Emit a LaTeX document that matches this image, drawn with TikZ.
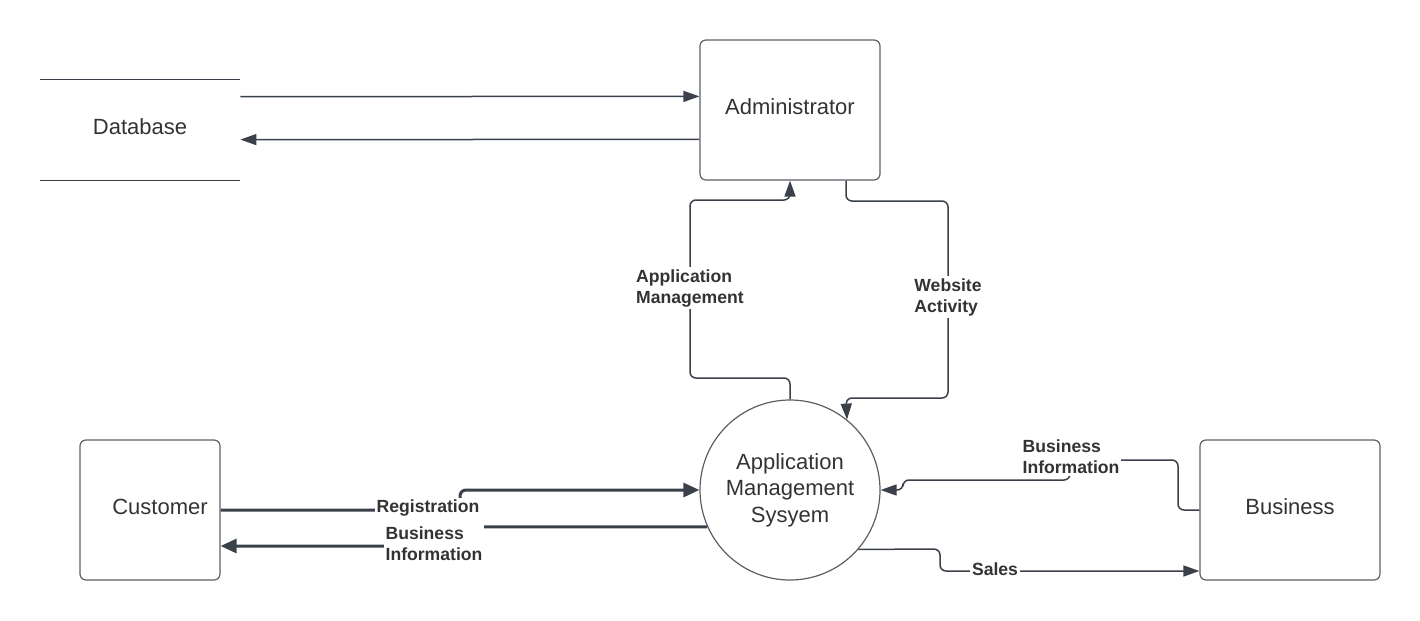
\documentclass[tikz,border=0pt]{standalone}
\usepackage{fontspec}
\setmainfont{Liberation Sans}
\usetikzlibrary{arrows.meta,calc}
\definecolor{ln}{HTML}{3A414A}
\definecolor{bx}{HTML}{5A5F66}
\definecolor{tx}{HTML}{333333}
\begin{document}
\begin{tikzpicture}[x=0.5pt,y=-0.5pt,
  ent/.style={draw=bx, line width=0.6pt, rounded corners=3pt, inner sep=0pt,
    font=\fontsize{11}{13.25}\selectfont, text=tx, text depth=3pt},
  proc/.style={draw=bx, line width=0.6pt, circle, minimum size=90pt, inner sep=0pt,
    font=\fontsize{11}{13.25}\selectfont, text=tx, align=center},
  flow/.style={draw=ln, line width=0.75pt, rounded corners=3pt,
    -{Triangle[length=8pt,width=5.5pt]}},
  boldflow/.style={draw=ln, line width=1.5pt, rounded corners=3pt,
    -{Triangle[length=8pt,width=7pt]}},
  lbl/.style={fill=white, font=\bfseries\fontsize{8.8}{10.5}\selectfont, text=tx,
    align=left, inner sep=1pt}
]
\useasboundingbox (0,0) rectangle (1420,621);

% nodes
\node[font=\fontsize{11}{13.25}\selectfont, text=tx, text depth=3pt, minimum width=100pt, minimum height=50pt, inner sep=0pt] (db) at (140,130) {Database};
\draw[draw=ln, line width=0.6pt] (db.north west) -- (db.north east);
\draw[draw=ln, line width=0.6pt] (db.south west) -- (db.south east);

\node[ent, minimum width=90pt, minimum height=70pt] (admin) at (790,110) {Administrator};
\node[proc] (ams) at (790,490) {Application\\Management\\Sysyem};
\node[ent, minimum width=70pt, minimum height=70pt] (cust) at (150,510) {\hspace*{10pt}Customer};
\node[ent, minimum width=90pt, minimum height=70pt] (bus) at (1290,510) {Business};

% database <-> administrator
\draw[flow] ($(db.north east)+(0,17)$) -- ($(admin.north west)+(0,57)$);
\draw[flow] ($(admin.north west)+(0,100)$) -- ($(db.north east)+(0,60)$);

% application management
\draw[flow] (ams.north) -- (790,378) -- (690,378) -- (690,200) -- (790,200) -- (admin.south);
\node[lbl] (lam) at (690,288) {Application\\Management};

% website activity
\draw[flow] ($(admin.south)+(56,0)$) -- (846,201) -- (948,201) -- (948,398) -- (846,398) -- (ams.51.5);
\node[lbl] (lwa) at (948,297) {Website\\Activity};

% registration
\draw[boldflow] (cust.east) -- (460,510) -- (460,490) -- (ams.west);
\node[lbl] (lreg) at (428,508) {Registration};

% business information to customer
\draw[boldflow] (ams.204.3) -- (434,527) -- (434,546) -- ($(cust.east)+(0,36)$);
\node[lbl] (lbi1) at (434,544) {Business\\Information};

% business information from business
\draw[flow] (bus.west) -- (1178,510) -- (1178,460) -- (1070,460) -- (1070,480) -- (903,480) -- (903,490) -- (ams.east);
\node[lbl] (lbi2) at (1071,457) {Business\\Information};

% sales
\draw[flow] (ams.-41) -- (940,549) -- (940,571) -- ($(bus.west)+(0,61)$);
\node[lbl] (lsales) at (995,569) {Sales};
\end{tikzpicture}
\end{document}
